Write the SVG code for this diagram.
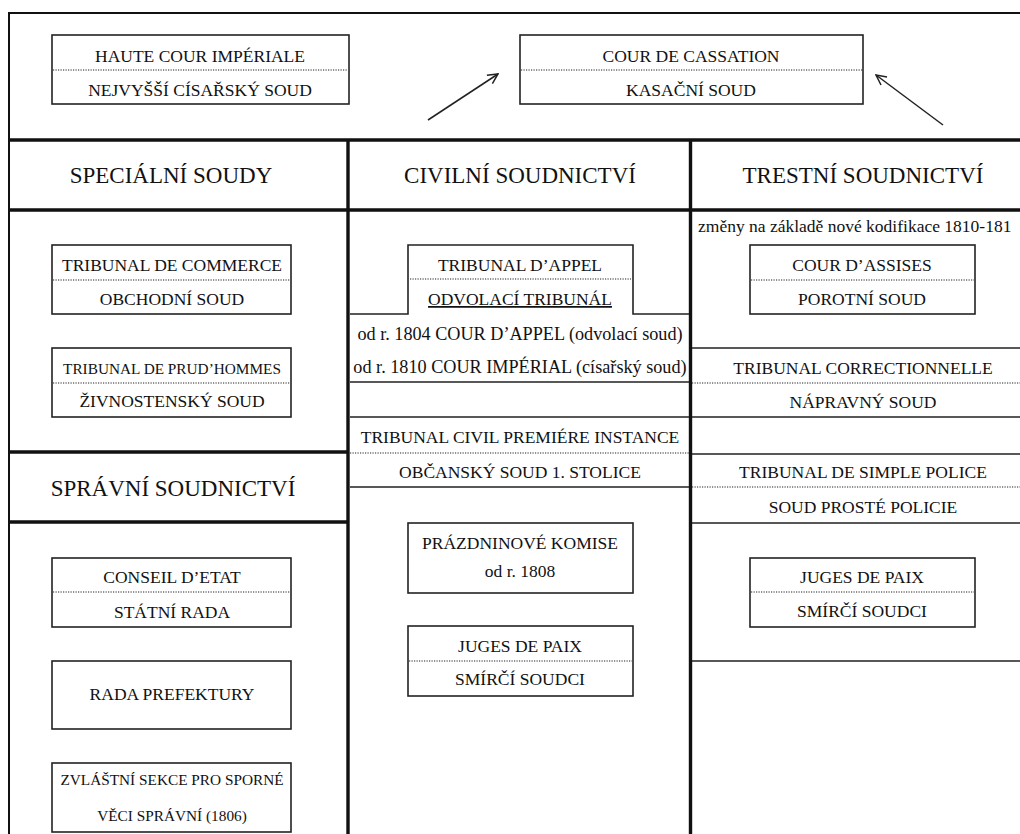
<svg xmlns="http://www.w3.org/2000/svg" width="1020" height="834" viewBox="0 0 1020 834">
<style>
text{font-family:'Liberation Serif','Times New Roman',serif;fill:#111;text-anchor:middle}
.t{font-size:17.5px}
.m{font-size:18.2px}
.s{font-size:15.3px}
.h{font-size:23px}
.box{fill:#fff;stroke:#222;stroke-width:1.6}
.dot{stroke:#222;stroke-width:1.1;stroke-dasharray:1.2 1.3;fill:none}
.thick{stroke:#111;stroke-width:3.4;fill:none}
.frame{stroke:#111;stroke-width:2;fill:none}
.thin{stroke:#222;stroke-width:1.6;fill:none}
.arr{stroke:#222;stroke-width:1.5;fill:none}
</style>
<defs>
<marker id="ah" viewBox="0 0 12 12" refX="11" refY="6" markerWidth="12" markerHeight="12" markerUnits="userSpaceOnUse" orient="auto">
<path d="M1,1 L11,6 L1,11" fill="none" stroke="#222" stroke-width="1.5"/>
</marker>
</defs>
<rect width="1020" height="834" fill="#fff"/>

<g id="grid">
<path class="frame" d="M9,834 V13 H1020"/>
<path class="thick" d="M9,140 H1020 M9,210 H1020 M348,140 V834 M690.5,140 V834 M9,452 H348 M9,522 H348"/>
<path class="thin" d="M350,314 H408 V245 H633 V314 H689 M350,382 H689 M350,417 H689 M350,487 H689"/>
<path class="thin" d="M692,348 H1020 M692,417 H1020 M692,454 H1020 M692,523 H1020 M692,661 H1020"/>
<path class="dot" d="M410,279 H631 M350,453 H689 M692,383 H1020 M692,487 H1020"/>
</g>

<g id="haute-cour">
<rect class="box" x="52" y="35" width="297" height="69"/>
<line class="dot" x1="53" y1="70" x2="348" y2="70"/>
<text class="t" x="200" y="62">HAUTE COUR IMPÉRIALE</text>
<text class="t" x="200" y="96">NEJVYŠŠÍ CÍSAŘSKÝ SOUD</text>
</g>

<g id="cour-cassation">
<rect class="box" x="520" y="35" width="343" height="69"/>
<line class="dot" x1="521" y1="70" x2="862" y2="70"/>
<text class="t" x="691" y="62">COUR DE CASSATION</text>
<text class="t" x="691" y="96">KASAČNÍ SOUD</text>
</g>

<g id="connectors">
<line class="arr" x1="428" y1="120" x2="498" y2="74" marker-end="url(#ah)"/>
<line class="arr" x1="943" y1="125" x2="876" y2="75" marker-end="url(#ah)"/>
</g>

<g id="hdr-specialni"><text class="h" x="171" y="183">SPECIÁLNÍ SOUDY</text></g>
<g id="hdr-civilni"><text class="h" x="520" y="183">CIVILNÍ SOUDNICTVÍ</text></g>
<g id="hdr-trestni"><text class="h" x="863" y="183">TRESTNÍ SOUDNICTVÍ</text></g>
<g id="hdr-spravni"><text class="h" x="173" y="496">SPRÁVNÍ SOUDNICTVÍ</text></g>

<g id="tribunal-commerce">
<rect class="box" x="52" y="245" width="239" height="69"/>
<line class="dot" x1="53" y1="280" x2="290" y2="280"/>
<text class="t" x="172" y="271">TRIBUNAL DE COMMERCE</text>
<text class="t" x="172" y="305">OBCHODNÍ SOUD</text>
</g>

<g id="tribunal-prudhommes">
<rect class="box" x="52" y="348" width="239" height="69"/>
<line class="dot" x1="53" y1="383" x2="290" y2="383"/>
<text class="s" x="172" y="374">TRIBUNAL DE PRUD’HOMMES</text>
<text class="t" x="172" y="407">ŽIVNOSTENSKÝ SOUD</text>
</g>

<g id="conseil-etat">
<rect class="box" x="52" y="558" width="239" height="69"/>
<line class="dot" x1="53" y1="592" x2="290" y2="592"/>
<text class="t" x="172" y="583">CONSEIL D’ETAT</text>
<text class="t" x="172" y="618">STÁTNÍ RADA</text>
</g>

<g id="rada-prefektury">
<rect class="box" x="52" y="661" width="239" height="68"/>
<text class="t" x="172" y="700">RADA PREFEKTURY</text>
</g>

<g id="zvlastni-sekce">
<rect class="box" x="52" y="763" width="239" height="69"/>
<text class="s" x="172" y="785">ZVLÁŠTNÍ SEKCE PRO SPORNÉ</text>
<text class="s" x="172" y="821">VĚCI SPRÁVNÍ (1806)</text>
</g>

<g id="tribunal-appel">
<text class="t" x="520" y="271">TRIBUNAL D’APPEL</text>
<text class="t" x="520" y="305" text-decoration="underline">ODVOLACÍ TRIBUNÁL</text>
<text class="m" x="520" y="340">od r. 1804 COUR D’APPEL (odvolací soud)</text>
<text class="m" x="520" y="373">od r. 1810 COUR IMPÉRIAL (císařský soud)</text>
</g>

<g id="tribunal-civil">
<text class="t" x="520" y="443">TRIBUNAL CIVIL PREMIÉRE INSTANCE</text>
<text class="t" x="520" y="478">OBČANSKÝ SOUD 1. STOLICE</text>
</g>

<g id="prazdninove-komise">
<rect class="box" x="408" y="523" width="225" height="70"/>
<text class="t" x="520" y="549">PRÁZDNINOVÉ KOMISE</text>
<text class="t" x="520" y="577">od r. 1808</text>
</g>

<g id="juges-paix-civil">
<rect class="box" x="408" y="626" width="225" height="70"/>
<line class="dot" x1="409" y1="661" x2="632" y2="661"/>
<text class="t" x="520" y="652">JUGES DE PAIX</text>
<text class="t" x="520" y="685">SMÍRČÍ SOUDCI</text>
</g>

<g id="note-kodifikace">
<text class="t" x="698" y="232" style="text-anchor:start">změny na základě nové kodifikace 1810-181</text>
</g>

<g id="cour-assises">
<rect class="box" x="750" y="245" width="225" height="69"/>
<line class="dot" x1="751" y1="280" x2="974" y2="280"/>
<text class="t" x="862" y="271">COUR D’ASSISES</text>
<text class="t" x="862" y="305">POROTNÍ SOUD</text>
</g>

<g id="tribunal-correctionnelle">
<text class="t" x="863" y="374">TRIBUNAL CORRECTIONNELLE</text>
<text class="t" x="863" y="408">NÁPRAVNÝ SOUD</text>
</g>

<g id="tribunal-simple-police">
<text class="t" x="863" y="478">TRIBUNAL DE SIMPLE POLICE</text>
<text class="t" x="863" y="513">SOUD PROSTÉ POLICIE</text>
</g>

<g id="juges-paix-trestni">
<rect class="box" x="750" y="558" width="225" height="69"/>
<line class="dot" x1="751" y1="592" x2="974" y2="592"/>
<text class="t" x="862" y="583">JUGES DE PAIX</text>
<text class="t" x="862" y="617">SMÍRČÍ SOUDCI</text>
</g>
</svg>
